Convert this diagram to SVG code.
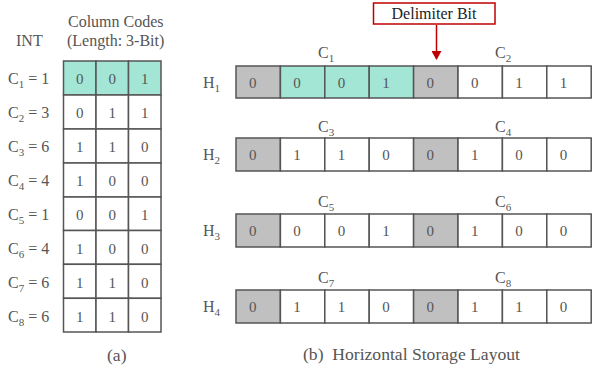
<svg xmlns="http://www.w3.org/2000/svg" width="595" height="370" viewBox="0 0 595 370">
<style>
text{font-family:"Liberation Serif","Times New Roman",serif;fill:#555;}
.lbl{font-size:16px;}
.cap{font-size:17.6px;}
.d{font-size:15px;text-anchor:middle;}
.sub{font-size:11px;}
.c{fill:#fff;stroke:#555;stroke-width:1.5;}
.t{fill:#a3e6d6;stroke:#555;stroke-width:1.5;}
.g{fill:#c0c0c0;stroke:#555;stroke-width:1.5;}
</style>
<defs>
<marker id="ah" markerWidth="10" markerHeight="10" refX="8" refY="5" orient="auto" markerUnits="userSpaceOnUse">
<path d="M0,0 L9,5 L0,10 z" fill="#c00000"/>
</marker>
</defs>
<rect width="595" height="370" fill="#fff"/>

<g id="header-a">
<text class="lbl" x="16" y="46">INT</text>
<text class="lbl" x="68" y="27">Column Codes</text>
<text class="lbl" x="67" y="46">(Length: 3-Bit)</text>
</g>

<g id="table-a">
<g id="a-row1">
<rect class="t" x="63.5" y="61" width="32.5" height="34"/><rect class="t" x="96" y="61" width="32.5" height="34"/><rect class="t" x="128.5" y="61" width="32.5" height="34"/>
<text class="d" x="79.7" y="84">0</text><text class="d" x="112.2" y="84">0</text><text class="d" x="144.7" y="84">1</text>
<text class="lbl" x="8" y="84">C<tspan class="sub" dy="4">1</tspan><tspan dy="-4"> = 1</tspan></text>
</g>
<g id="a-row2">
<rect class="c" x="63.5" y="95" width="32.5" height="34"/><rect class="c" x="96" y="95" width="32.5" height="34"/><rect class="c" x="128.5" y="95" width="32.5" height="34"/>
<text class="d" x="79.7" y="118">0</text><text class="d" x="112.2" y="118">1</text><text class="d" x="144.7" y="118">1</text>
<text class="lbl" x="8" y="118">C<tspan class="sub" dy="4">2</tspan><tspan dy="-4"> = 3</tspan></text>
</g>
<g id="a-row3">
<rect class="c" x="63.5" y="129" width="32.5" height="34"/><rect class="c" x="96" y="129" width="32.5" height="34"/><rect class="c" x="128.5" y="129" width="32.5" height="34"/>
<text class="d" x="79.7" y="152">1</text><text class="d" x="112.2" y="152">1</text><text class="d" x="144.7" y="152">0</text>
<text class="lbl" x="8" y="152">C<tspan class="sub" dy="4">3</tspan><tspan dy="-4"> = 6</tspan></text>
</g>
<g id="a-row4">
<rect class="c" x="63.5" y="163" width="32.5" height="34"/><rect class="c" x="96" y="163" width="32.5" height="34"/><rect class="c" x="128.5" y="163" width="32.5" height="34"/>
<text class="d" x="79.7" y="186">1</text><text class="d" x="112.2" y="186">0</text><text class="d" x="144.7" y="186">0</text>
<text class="lbl" x="8" y="186">C<tspan class="sub" dy="4">4</tspan><tspan dy="-4"> = 4</tspan></text>
</g>
<g id="a-row5">
<rect class="c" x="63.5" y="197" width="32.5" height="33.5"/><rect class="c" x="96" y="197" width="32.5" height="33.5"/><rect class="c" x="128.5" y="197" width="32.5" height="33.5"/>
<text class="d" x="79.7" y="220">0</text><text class="d" x="112.2" y="220">0</text><text class="d" x="144.7" y="220">1</text>
<text class="lbl" x="8" y="220">C<tspan class="sub" dy="4">5</tspan><tspan dy="-4"> = 1</tspan></text>
</g>
<g id="a-row6">
<rect class="c" x="63.5" y="230.5" width="32.5" height="33.8"/><rect class="c" x="96" y="230.5" width="32.5" height="33.8"/><rect class="c" x="128.5" y="230.5" width="32.5" height="33.8"/>
<text class="d" x="79.7" y="253.5">1</text><text class="d" x="112.2" y="253.5">0</text><text class="d" x="144.7" y="253.5">0</text>
<text class="lbl" x="8" y="253.5">C<tspan class="sub" dy="4">6</tspan><tspan dy="-4"> = 4</tspan></text>
</g>
<g id="a-row7">
<rect class="c" x="63.5" y="264.3" width="32.5" height="34"/><rect class="c" x="96" y="264.3" width="32.5" height="34"/><rect class="c" x="128.5" y="264.3" width="32.5" height="34"/>
<text class="d" x="79.7" y="287.5">1</text><text class="d" x="112.2" y="287.5">1</text><text class="d" x="144.7" y="287.5">0</text>
<text class="lbl" x="8" y="287.5">C<tspan class="sub" dy="4">7</tspan><tspan dy="-4"> = 6</tspan></text>
</g>
<g id="a-row8">
<rect class="c" x="63.5" y="298.3" width="32.5" height="33.7"/><rect class="c" x="96" y="298.3" width="32.5" height="33.7"/><rect class="c" x="128.5" y="298.3" width="32.5" height="33.7"/>
<text class="d" x="79.7" y="321.5">1</text><text class="d" x="112.2" y="321.5">1</text><text class="d" x="144.7" y="321.5">0</text>
<text class="lbl" x="8" y="321.5">C<tspan class="sub" dy="4">8</tspan><tspan dy="-4"> = 6</tspan></text>
</g>
</g>
<text class="cap" x="107" y="361">(a)</text>

<g id="delimiter">
<rect x="373.5" y="3" width="121.5" height="21" fill="#fff" stroke="#c00000" stroke-width="1.5"/>
<text class="lbl" x="434" y="19" text-anchor="middle" style="fill:#222">Delimiter Bit</text>
</g>

<g id="H1">
<text class="lbl" x="203" y="88">H<tspan class="sub" dy="4">1</tspan></text>
<text class="lbl" x="318" y="58">C<tspan class="sub" dy="4">1</tspan></text>
<text class="lbl" x="495" y="58">C<tspan class="sub" dy="4">2</tspan></text>
<rect class="g" x="236" y="66" width="44.4" height="32"/><rect class="t" x="280.4" y="66" width="44.4" height="32"/><rect class="t" x="324.8" y="66" width="44.4" height="32"/><rect class="t" x="369.2" y="66" width="44.4" height="32"/><rect class="g" x="413.6" y="66" width="44.4" height="32"/><rect class="c" x="458" y="66" width="44.4" height="32"/><rect class="c" x="502.4" y="66" width="44.4" height="32"/><rect class="c" x="546.8" y="66" width="44.4" height="32"/>
<text class="d" x="252.7" y="87.5">0</text><text class="d" x="297.1" y="87.5">0</text><text class="d" x="341.5" y="87.5">0</text><text class="d" x="385.9" y="87.5">1</text><text class="d" x="430.3" y="87.5">0</text><text class="d" x="474.7" y="87.5">0</text><text class="d" x="519.1" y="87.5">1</text><text class="d" x="563.5" y="87.5">1</text>
</g>

<g id="H2">
<text class="lbl" x="203" y="160">H<tspan class="sub" dy="4">2</tspan></text>
<text class="lbl" x="318" y="132">C<tspan class="sub" dy="4">3</tspan></text>
<text class="lbl" x="495" y="132">C<tspan class="sub" dy="4">4</tspan></text>
<rect class="g" x="236" y="138" width="44.4" height="33"/><rect class="c" x="280.4" y="138" width="44.4" height="33"/><rect class="c" x="324.8" y="138" width="44.4" height="33"/><rect class="c" x="369.2" y="138" width="44.4" height="33"/><rect class="g" x="413.6" y="138" width="44.4" height="33"/><rect class="c" x="458" y="138" width="44.4" height="33"/><rect class="c" x="502.4" y="138" width="44.4" height="33"/><rect class="c" x="546.8" y="138" width="44.4" height="33"/>
<text class="d" x="252.7" y="160">0</text><text class="d" x="297.1" y="160">1</text><text class="d" x="341.5" y="160">1</text><text class="d" x="385.9" y="160">0</text><text class="d" x="430.3" y="160">0</text><text class="d" x="474.7" y="160">1</text><text class="d" x="519.1" y="160">0</text><text class="d" x="563.5" y="160">0</text>
</g>

<g id="H3">
<text class="lbl" x="203" y="236">H<tspan class="sub" dy="4">3</tspan></text>
<text class="lbl" x="318" y="207">C<tspan class="sub" dy="4">5</tspan></text>
<text class="lbl" x="495" y="207">C<tspan class="sub" dy="4">6</tspan></text>
<rect class="g" x="236" y="214" width="44.4" height="33"/><rect class="c" x="280.4" y="214" width="44.4" height="33"/><rect class="c" x="324.8" y="214" width="44.4" height="33"/><rect class="c" x="369.2" y="214" width="44.4" height="33"/><rect class="g" x="413.6" y="214" width="44.4" height="33"/><rect class="c" x="458" y="214" width="44.4" height="33"/><rect class="c" x="502.4" y="214" width="44.4" height="33"/><rect class="c" x="546.8" y="214" width="44.4" height="33"/>
<text class="d" x="252.7" y="236">0</text><text class="d" x="297.1" y="236">0</text><text class="d" x="341.5" y="236">0</text><text class="d" x="385.9" y="236">1</text><text class="d" x="430.3" y="236">0</text><text class="d" x="474.7" y="236">1</text><text class="d" x="519.1" y="236">0</text><text class="d" x="563.5" y="236">0</text>
</g>

<g id="H4">
<text class="lbl" x="203" y="312">H<tspan class="sub" dy="4">4</tspan></text>
<text class="lbl" x="318" y="283">C<tspan class="sub" dy="4">7</tspan></text>
<text class="lbl" x="495" y="283">C<tspan class="sub" dy="4">8</tspan></text>
<rect class="g" x="236" y="290" width="44.4" height="33"/><rect class="c" x="280.4" y="290" width="44.4" height="33"/><rect class="c" x="324.8" y="290" width="44.4" height="33"/><rect class="c" x="369.2" y="290" width="44.4" height="33"/><rect class="g" x="413.6" y="290" width="44.4" height="33"/><rect class="c" x="458" y="290" width="44.4" height="33"/><rect class="c" x="502.4" y="290" width="44.4" height="33"/><rect class="c" x="546.8" y="290" width="44.4" height="33"/>
<text class="d" x="252.7" y="312">0</text><text class="d" x="297.1" y="312">1</text><text class="d" x="341.5" y="312">1</text><text class="d" x="385.9" y="312">0</text><text class="d" x="430.3" y="312">0</text><text class="d" x="474.7" y="312">1</text><text class="d" x="519.1" y="312">1</text><text class="d" x="563.5" y="312">0</text>
</g>

<text class="cap" x="303" y="360" xml:space="preserve">(b)  Horizontal Storage Layout</text>

<g id="connectors">
<line x1="436.5" y1="25" x2="436.5" y2="59" stroke="#c00000" stroke-width="1.5" marker-end="url(#ah)"/>
</g>
</svg>
